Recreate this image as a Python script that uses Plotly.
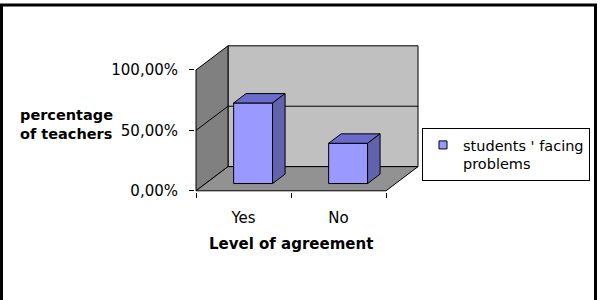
import plotly.graph_objects as go

# ---- data ----
categories = ["Yes", "No"]
values = [66.67, 33.33]          # percentage of teachers
series_name = "students ' facing<br>problems"
y_tick_vals = [0, 50, 100]
y_tick_text = ["0,00%", "50,00%", "100,00%"]

# ---- pseudo-3D geometry (in data units) ----
DX, DY = 0.337, 20.0      # full depth of the box
BAR_D0, BAR_D = 0.30, 0.39  # bar depth start / depth as fraction of box depth
BAR_HALF = 0.205

FONT = "DejaVu Sans"
FRONT = "#9999FF"
TOP = "#6B6BCB"
SIDE = "#6262AE"

L, R, T, B = 195, 179, 44, 108
W, H = 603, 300
PW, PH = W - L - R, H - T - B

fig = go.Figure()

n = len(categories)
xs = list(range(n))
x0_box, x1_box = -0.5, n - 0.5

# walls / floor
def poly(pts, color):
    path = "M " + " L ".join(f"{x},{y}" for x, y in pts) + " Z"
    return dict(type="path", path=path, xref="x", yref="y", fillcolor=color,
                line=dict(color="black", width=1), layer="below")

shapes = []
shapes.append(poly([(x0_box + DX, DY), (x1_box + DX, DY), (x1_box + DX, 100 + DY), (x0_box + DX, 100 + DY)], "#C0C0C0"))
shapes.append(poly([(x0_box, 0), (x0_box + DX, DY), (x0_box + DX, 100 + DY), (x0_box, 100)], "#808080"))
shapes.append(poly([(x0_box, 0), (x1_box, 0), (x1_box + DX, DY), (x0_box + DX, DY)], "#929292"))
for g in y_tick_vals[1:-1]:
    shapes.append(dict(type="path", xref="x", yref="y", layer="below",
                       path=f"M {x0_box},{g} L {x0_box+DX},{g+DY} L {x1_box+DX},{g+DY}",
                       line=dict(color="black", width=1)))

# outer frame
def px2x(p):
    return (p - L) / PW
def px2y(p):
    return 1 - (p - T) / PH
shapes.append(dict(type="rect", xref="paper", yref="paper",
                   x0=px2x(1.5), x1=px2x(595.5), y0=px2y(305), y1=px2y(5),
                   line=dict(color="black", width=3), fillcolor="rgba(0,0,0,0)"))

# bar front faces
sx, sy = BAR_D0 * DX, BAR_D0 * DY
bx, by = BAR_D * DX, BAR_D * DY
fig.add_trace(go.Bar(x=[x + sx for x in xs], y=values, base=sy, width=2 * BAR_HALF,
                     marker=dict(color=FRONT, line=dict(color="black", width=1)),
                     showlegend=False, hoverinfo="skip"))

for x, v in zip(xs, values):
    xa, xb = x + sx - BAR_HALF, x + sx + BAR_HALF
    top = sy + v
    # top face
    fig.add_trace(go.Scatter(x=[xa, xb, xb + bx, xa + bx, xa], y=[top, top, top + by, top + by, top],
                             mode="lines", fill="toself", fillcolor=TOP,
                             line=dict(color="black", width=1), showlegend=False, hoverinfo="skip"))
    # side face
    fig.add_trace(go.Scatter(x=[xb, xb + bx, xb + bx, xb, xb], y=[sy, sy + by, top + by, top, sy],
                             mode="lines", fill="toself", fillcolor=SIDE,
                             line=dict(color="black", width=1), showlegend=False, hoverinfo="skip"))

# legend entry
fig.add_trace(go.Scatter(x=[None], y=[None], mode="markers", name=series_name,
                         marker=dict(symbol="square", size=8, color=FRONT,
                                     line=dict(color="black", width=1))))

fig.update_layout(
    width=W, height=H, margin=dict(l=L, r=R, t=T, b=B, pad=0),
    paper_bgcolor="white", plot_bgcolor="rgba(0,0,0,0)",
    font=dict(family=FONT, color="black", size=15),
    shapes=shapes,
    showlegend=True,
    legend=dict(x=px2x(422), y=px2y(128), xanchor="left", yanchor="top",
                bgcolor="white", bordercolor="black", borderwidth=1,
                font=dict(family=FONT, size=14.5, color="black"),
                itemsizing="trace", valign="top"),
    xaxis=dict(range=[x0_box - 1 / 95, 1.9], tickvals=xs, ticktext=categories,
               ticks="", showgrid=False, zeroline=False, showline=False,
               tickfont=dict(size=15), ticklabelstandoff=15,
               minor=dict(tickvals=[x0_box + i for i in range(n + 1)], ticks="outside",
                          ticklen=5, tickcolor="black", tickwidth=1, showgrid=False)),
    yaxis=dict(range=[-1, 121.5], tickvals=y_tick_vals, ticktext=y_tick_text,
               ticks="outside", ticklen=5, tickcolor="black", tickwidth=1,
               showgrid=False, zeroline=False, showline=False,
               tickfont=dict(size=15), ticklabelstandoff=8),
    annotations=[
        dict(text="<b>percentage<br>of teachers</b>", xref="paper", yref="paper",
             x=px2x(115), y=px2y(124.5), xanchor="right", yanchor="middle",
             align="left", showarrow=False, font=dict(size=14.5)),
        dict(text="<b>Level of agreement</b>", xref="x", yref="paper",
             x=(x0_box + x1_box) / 2, y=px2y(243.5), xanchor="center", yanchor="middle",
             showarrow=False, font=dict(size=15)),
    ],
)

fig.write_html("out.html")
